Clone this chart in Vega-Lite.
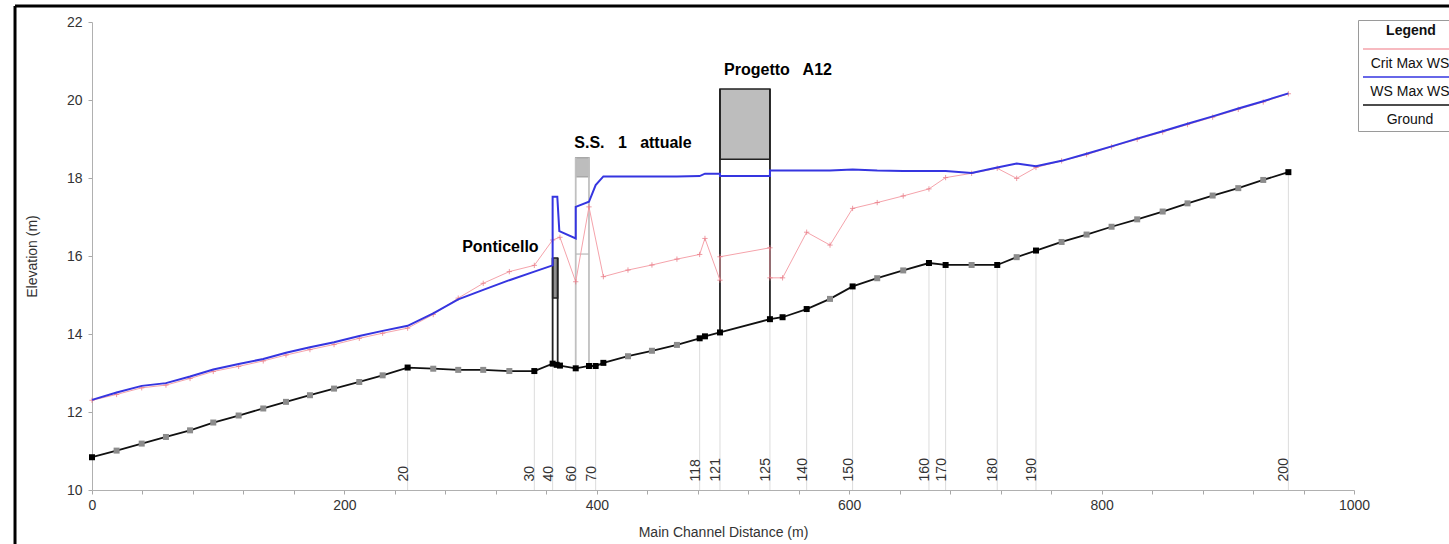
{
  "$schema": "https://vega.github.io/schema/vega-lite/v6.json",
  "width": 1262,
  "height": 468,
  "autosize": {"type": "none"},
  "padding": {"left": 92, "top": 22, "right": 95, "bottom": 54},
  "background": "white",
  "config": {
    "view": {"stroke": null},
    "font": "Liberation Sans",
    "axis": {"grid": false, "domainColor": "#b0b0b0", "tickColor": "#a8a8a8", "tickSize": 4, "labelPadding": 4, "labelColor": "#333", "labelFontSize": 14, "titleColor": "#333", "titleFontSize": 14, "titleFontWeight": "normal", "labelFont": "Liberation Sans", "titleFont": "Liberation Sans", "labelOverlap": false, "labelFlush": false}
  },
  "datasets": {
    "profile": [
      {"series": "Ground", "i": 1, "d": 0, "z": 10.84, "b": 1},
      {"series": "Ground", "i": 2, "d": 19.5, "z": 11.01, "b": 0},
      {"series": "Ground", "i": 3, "d": 39.4, "z": 11.19, "b": 0},
      {"series": "Ground", "i": 4, "d": 58.6, "z": 11.36, "b": 0},
      {"series": "Ground", "i": 5, "d": 77.7, "z": 11.53, "b": 0},
      {"series": "Ground", "i": 6, "d": 96.1, "z": 11.73, "b": 0},
      {"series": "Ground", "i": 7, "d": 116.2, "z": 11.91, "b": 0},
      {"series": "Ground", "i": 8, "d": 135.7, "z": 12.09, "b": 0},
      {"series": "Ground", "i": 9, "d": 153.7, "z": 12.26, "b": 0},
      {"series": "Ground", "i": 10, "d": 172.7, "z": 12.43, "b": 0},
      {"series": "Ground", "i": 11, "d": 191.8, "z": 12.60, "b": 0},
      {"series": "Ground", "i": 12, "d": 211.8, "z": 12.77, "b": 0},
      {"series": "Ground", "i": 13, "d": 230.3, "z": 12.94, "b": 0},
      {"series": "Ground", "i": 14, "d": 250.1, "z": 13.14, "b": 1},
      {"series": "Ground", "i": 15, "d": 270.4, "z": 13.11, "b": 0},
      {"series": "Ground", "i": 16, "d": 290.2, "z": 13.08, "b": 0},
      {"series": "Ground", "i": 17, "d": 310.0, "z": 13.08, "b": 0},
      {"series": "Ground", "i": 18, "d": 330.7, "z": 13.05, "b": 0},
      {"series": "Ground", "i": 19, "d": 350.5, "z": 13.05, "b": 1},
      {"series": "Ground", "i": 20, "d": 365.0, "z": 13.24, "b": 1},
      {"series": "Ground", "i": 21, "d": 368.2, "z": 13.21, "b": 1},
      {"series": "Ground", "i": 22, "d": 370.8, "z": 13.19, "b": 1},
      {"series": "Ground", "i": 23, "d": 383.3, "z": 13.12, "b": 1},
      {"series": "Ground", "i": 24, "d": 393.8, "z": 13.18, "b": 1},
      {"series": "Ground", "i": 25, "d": 399.1, "z": 13.18, "b": 1},
      {"series": "Ground", "i": 26, "d": 405.2, "z": 13.26, "b": 1},
      {"series": "Ground", "i": 27, "d": 424.7, "z": 13.43, "b": 0},
      {"series": "Ground", "i": 28, "d": 443.7, "z": 13.57, "b": 0},
      {"series": "Ground", "i": 29, "d": 463.5, "z": 13.72, "b": 0},
      {"series": "Ground", "i": 30, "d": 481.5, "z": 13.89, "b": 1},
      {"series": "Ground", "i": 31, "d": 485.7, "z": 13.94, "b": 1},
      {"series": "Ground", "i": 32, "d": 497.6, "z": 14.04, "b": 1},
      {"series": "Ground", "i": 33, "d": 537.2, "z": 14.38, "b": 1},
      {"series": "Ground", "i": 34, "d": 547.2, "z": 14.43, "b": 1},
      {"series": "Ground", "i": 35, "d": 566.3, "z": 14.64, "b": 1},
      {"series": "Ground", "i": 36, "d": 584.8, "z": 14.90, "b": 0},
      {"series": "Ground", "i": 37, "d": 602.7, "z": 15.22, "b": 1},
      {"series": "Ground", "i": 38, "d": 622.2, "z": 15.43, "b": 0},
      {"series": "Ground", "i": 39, "d": 642.8, "z": 15.63, "b": 0},
      {"series": "Ground", "i": 40, "d": 663.2, "z": 15.82, "b": 1},
      {"series": "Ground", "i": 41, "d": 676.4, "z": 15.77, "b": 1},
      {"series": "Ground", "i": 42, "d": 697.0, "z": 15.77, "b": 0},
      {"series": "Ground", "i": 43, "d": 717.3, "z": 15.77, "b": 1},
      {"series": "Ground", "i": 44, "d": 732.7, "z": 15.97, "b": 0},
      {"series": "Ground", "i": 45, "d": 748.0, "z": 16.14, "b": 1},
      {"series": "Ground", "i": 46, "d": 768.3, "z": 16.36, "b": 0},
      {"series": "Ground", "i": 47, "d": 788.1, "z": 16.55, "b": 0},
      {"series": "Ground", "i": 48, "d": 807.9, "z": 16.75, "b": 0},
      {"series": "Ground", "i": 49, "d": 828.2, "z": 16.94, "b": 0},
      {"series": "Ground", "i": 50, "d": 848.4, "z": 17.14, "b": 0},
      {"series": "Ground", "i": 51, "d": 868.1, "z": 17.35, "b": 0},
      {"series": "Ground", "i": 52, "d": 888.0, "z": 17.55, "b": 0},
      {"series": "Ground", "i": 53, "d": 908.3, "z": 17.74, "b": 0},
      {"series": "Ground", "i": 54, "d": 928.1, "z": 17.95, "b": 0},
      {"series": "Ground", "i": 55, "d": 948.0, "z": 18.15, "b": 1},

      {"series": "WS Max WS", "i": 1, "d": 0, "z": 12.31},
      {"series": "WS Max WS", "i": 2, "d": 19.5, "z": 12.50},
      {"series": "WS Max WS", "i": 3, "d": 39.4, "z": 12.67},
      {"series": "WS Max WS", "i": 4, "d": 58.6, "z": 12.74},
      {"series": "WS Max WS", "i": 5, "d": 77.7, "z": 12.91},
      {"series": "WS Max WS", "i": 6, "d": 96.1, "z": 13.09},
      {"series": "WS Max WS", "i": 7, "d": 116.2, "z": 13.23},
      {"series": "WS Max WS", "i": 8, "d": 135.7, "z": 13.36},
      {"series": "WS Max WS", "i": 9, "d": 153.7, "z": 13.52},
      {"series": "WS Max WS", "i": 10, "d": 172.7, "z": 13.66},
      {"series": "WS Max WS", "i": 11, "d": 191.8, "z": 13.79},
      {"series": "WS Max WS", "i": 12, "d": 211.8, "z": 13.95},
      {"series": "WS Max WS", "i": 13, "d": 230.3, "z": 14.08},
      {"series": "WS Max WS", "i": 14, "d": 250.1, "z": 14.21},
      {"series": "WS Max WS", "i": 15, "d": 270.4, "z": 14.53},
      {"series": "WS Max WS", "i": 16, "d": 290.2, "z": 14.89},
      {"series": "WS Max WS", "i": 17, "d": 310.0, "z": 15.13},
      {"series": "WS Max WS", "i": 18, "d": 330.7, "z": 15.38},
      {"series": "WS Max WS", "i": 19, "d": 350.5, "z": 15.60},
      {"series": "WS Max WS", "i": 20, "d": 365.0, "z": 15.76},
      {"series": "WS Max WS", "i": 21, "d": 365.0, "z": 17.52},
      {"series": "WS Max WS", "i": 22, "d": 368.7, "z": 17.52},
      {"series": "WS Max WS", "i": 23, "d": 370.3, "z": 16.64},
      {"series": "WS Max WS", "i": 24, "d": 383.3, "z": 16.45},
      {"series": "WS Max WS", "i": 25, "d": 383.3, "z": 17.26},
      {"series": "WS Max WS", "i": 26, "d": 393.8, "z": 17.39},
      {"series": "WS Max WS", "i": 27, "d": 399.1, "z": 17.82},
      {"series": "WS Max WS", "i": 28, "d": 405.2, "z": 18.04},
      {"series": "WS Max WS", "i": 29, "d": 424.7, "z": 18.04},
      {"series": "WS Max WS", "i": 30, "d": 443.7, "z": 18.04},
      {"series": "WS Max WS", "i": 31, "d": 463.5, "z": 18.04},
      {"series": "WS Max WS", "i": 32, "d": 481.5, "z": 18.05},
      {"series": "WS Max WS", "i": 33, "d": 485.7, "z": 18.11},
      {"series": "WS Max WS", "i": 34, "d": 497.6, "z": 18.11},
      {"series": "WS Max WS", "i": 35, "d": 497.6, "z": 18.05},
      {"series": "WS Max WS", "i": 36, "d": 537.2, "z": 18.05},
      {"series": "WS Max WS", "i": 37, "d": 537.2, "z": 18.19},
      {"series": "WS Max WS", "i": 38, "d": 547.2, "z": 18.19},
      {"series": "WS Max WS", "i": 39, "d": 566.3, "z": 18.19},
      {"series": "WS Max WS", "i": 40, "d": 584.8, "z": 18.19},
      {"series": "WS Max WS", "i": 41, "d": 602.7, "z": 18.22},
      {"series": "WS Max WS", "i": 42, "d": 622.2, "z": 18.19},
      {"series": "WS Max WS", "i": 43, "d": 642.8, "z": 18.18},
      {"series": "WS Max WS", "i": 44, "d": 663.2, "z": 18.18},
      {"series": "WS Max WS", "i": 45, "d": 676.4, "z": 18.18},
      {"series": "WS Max WS", "i": 46, "d": 697.0, "z": 18.13},
      {"series": "WS Max WS", "i": 47, "d": 717.3, "z": 18.27},
      {"series": "WS Max WS", "i": 48, "d": 732.7, "z": 18.37},
      {"series": "WS Max WS", "i": 49, "d": 748.0, "z": 18.30},
      {"series": "WS Max WS", "i": 50, "d": 768.3, "z": 18.44},
      {"series": "WS Max WS", "i": 51, "d": 788.1, "z": 18.62},
      {"series": "WS Max WS", "i": 52, "d": 807.9, "z": 18.81},
      {"series": "WS Max WS", "i": 53, "d": 828.2, "z": 19.01},
      {"series": "WS Max WS", "i": 54, "d": 848.4, "z": 19.20},
      {"series": "WS Max WS", "i": 55, "d": 868.1, "z": 19.39},
      {"series": "WS Max WS", "i": 56, "d": 888.0, "z": 19.58},
      {"series": "WS Max WS", "i": 57, "d": 908.3, "z": 19.78},
      {"series": "WS Max WS", "i": 58, "d": 928.1, "z": 19.97},
      {"series": "WS Max WS", "i": 59, "d": 948.0, "z": 20.17},

      {"series": "Crit Max WS", "i": 1, "d": 0, "z": 12.30},
      {"series": "Crit Max WS", "i": 2, "d": 19.5, "z": 12.45},
      {"series": "Crit Max WS", "i": 3, "d": 39.4, "z": 12.62},
      {"series": "Crit Max WS", "i": 4, "d": 58.6, "z": 12.69},
      {"series": "Crit Max WS", "i": 5, "d": 77.7, "z": 12.86},
      {"series": "Crit Max WS", "i": 6, "d": 96.1, "z": 13.04},
      {"series": "Crit Max WS", "i": 7, "d": 116.2, "z": 13.17},
      {"series": "Crit Max WS", "i": 8, "d": 135.7, "z": 13.31},
      {"series": "Crit Max WS", "i": 9, "d": 153.7, "z": 13.46},
      {"series": "Crit Max WS", "i": 10, "d": 172.7, "z": 13.60},
      {"series": "Crit Max WS", "i": 11, "d": 191.8, "z": 13.73},
      {"series": "Crit Max WS", "i": 12, "d": 211.8, "z": 13.89},
      {"series": "Crit Max WS", "i": 13, "d": 230.3, "z": 14.02},
      {"series": "Crit Max WS", "i": 14, "d": 250.1, "z": 14.15},
      {"series": "Crit Max WS", "i": 15, "d": 270.4, "z": 14.50},
      {"series": "Crit Max WS", "i": 16, "d": 290.2, "z": 14.92},
      {"series": "Crit Max WS", "i": 17, "d": 310.0, "z": 15.30},
      {"series": "Crit Max WS", "i": 18, "d": 330.7, "z": 15.60},
      {"series": "Crit Max WS", "i": 19, "d": 350.5, "z": 15.76},
      {"series": "Crit Max WS", "i": 20, "d": 365.0, "z": 16.41},
      {"series": "Crit Max WS", "i": 21, "d": 370.8, "z": 16.48},
      {"series": "Crit Max WS", "i": 22, "d": 383.3, "z": 15.34},
      {"series": "Crit Max WS", "i": 23, "d": 393.8, "z": 17.26},
      {"series": "Crit Max WS", "i": 24, "d": 405.2, "z": 15.47},
      {"series": "Crit Max WS", "i": 25, "d": 424.7, "z": 15.64},
      {"series": "Crit Max WS", "i": 26, "d": 443.7, "z": 15.77},
      {"series": "Crit Max WS", "i": 27, "d": 463.5, "z": 15.92},
      {"series": "Crit Max WS", "i": 28, "d": 481.5, "z": 16.04},
      {"series": "Crit Max WS", "i": 29, "d": 485.7, "z": 16.45},
      {"series": "Crit Max WS", "i": 30, "d": 497.6, "z": 15.38},
      {"series": "Crit Max WS", "i": 31, "d": 497.6, "z": 15.98},
      {"series": "Crit Max WS", "i": 32, "d": 537.2, "z": 16.21},
      {"series": "Crit Max WS", "i": 33, "d": 537.2, "z": 15.44},
      {"series": "Crit Max WS", "i": 34, "d": 547.2, "z": 15.44},
      {"series": "Crit Max WS", "i": 35, "d": 566.3, "z": 16.61},
      {"series": "Crit Max WS", "i": 36, "d": 584.8, "z": 16.28},
      {"series": "Crit Max WS", "i": 37, "d": 602.7, "z": 17.22},
      {"series": "Crit Max WS", "i": 38, "d": 622.2, "z": 17.37},
      {"series": "Crit Max WS", "i": 39, "d": 642.8, "z": 17.54},
      {"series": "Crit Max WS", "i": 40, "d": 663.2, "z": 17.72},
      {"series": "Crit Max WS", "i": 41, "d": 676.4, "z": 18.01},
      {"series": "Crit Max WS", "i": 42, "d": 697.0, "z": 18.12},
      {"series": "Crit Max WS", "i": 43, "d": 717.3, "z": 18.25},
      {"series": "Crit Max WS", "i": 44, "d": 732.7, "z": 17.99},
      {"series": "Crit Max WS", "i": 45, "d": 748.0, "z": 18.27},
      {"series": "Crit Max WS", "i": 46, "d": 768.3, "z": 18.44},
      {"series": "Crit Max WS", "i": 47, "d": 788.1, "z": 18.60},
      {"series": "Crit Max WS", "i": 48, "d": 807.9, "z": 18.80},
      {"series": "Crit Max WS", "i": 49, "d": 828.2, "z": 18.99},
      {"series": "Crit Max WS", "i": 50, "d": 848.4, "z": 19.18},
      {"series": "Crit Max WS", "i": 51, "d": 868.1, "z": 19.37},
      {"series": "Crit Max WS", "i": 52, "d": 888.0, "z": 19.56},
      {"series": "Crit Max WS", "i": 53, "d": 908.3, "z": 19.76},
      {"series": "Crit Max WS", "i": 54, "d": 928.1, "z": 19.95},
      {"series": "Crit Max WS", "i": 55, "d": 948.0, "z": 20.16}
    ],
    "stations": [
      {"s": "20", "d": 250.1, "z": 13.14},
      {"s": "30", "d": 350.5, "z": 13.05},
      {"s": "40", "d": 365.0, "z": 13.24},
      {"s": "60", "d": 383.3, "z": 13.12},
      {"s": "70", "d": 399.1, "z": 13.18},
      {"s": "118", "d": 481.5, "z": 13.89},
      {"s": "121", "d": 497.6, "z": 14.04},
      {"s": "125", "d": 537.2, "z": 14.38},
      {"s": "140", "d": 566.3, "z": 14.64},
      {"s": "150", "d": 602.7, "z": 15.22},
      {"s": "160", "d": 663.2, "z": 15.82},
      {"s": "170", "d": 676.4, "z": 15.77},
      {"s": "180", "d": 717.3, "z": 15.77},
      {"s": "190", "d": 748.0, "z": 16.14},
      {"s": "200", "d": 948.0, "z": 18.15}
    ],
    "decks": [
      {"bridge": "Ponticello", "d": 365.0, "d2": 369.0, "z": 14.92, "z2": 15.95},
      {"bridge": "S.S. 1", "d": 383.3, "d2": 393.8, "z": 18.03, "z2": 18.52},
      {"bridge": "A12", "d": 497.6, "d2": 537.2, "z": 18.48, "z2": 20.28}
    ],
    "walls": [
      {"bridge": "Ponticello", "d": 365.0, "z": 13.24, "z2": 15.95},
      {"bridge": "Ponticello", "d": 369.0, "z": 13.2, "z2": 15.95},
      {"bridge": "S.S. 1", "d": 383.3, "z": 13.12, "z2": 18.52},
      {"bridge": "S.S. 1", "d": 393.8, "z": 13.18, "z2": 18.52},
      {"bridge": "A12", "d": 497.6, "z": 14.04, "z2": 20.28},
      {"bridge": "A12", "d": 537.2, "z": 14.38, "z2": 20.28}
    ],
    "chords": [
      {"bridge": "S.S. 1", "d": 383.3, "d2": 393.8, "z": 16.05}
    ],
    "notes": [
      {"text": "Ponticello", "d": 323.6, "z": 16.24},
      {"text": "S.S.\u00a0\u00a0 1\u00a0\u00a0 attuale", "d": 428.7, "z": 18.90},
      {"text": "Progetto\u00a0\u00a0 A12", "d": 543.6, "z": 20.77}
    ],
    "frame": [
      {"d": -61, "d2": -61, "z": 8, "z2": 22.41},
      {"d": -61, "d2": 1100, "z": 22.41, "z2": 22.41}
    ]
  },
  "encoding": {
    "x": {
      "field": "d", "type": "quantitative",
      "scale": {"domain": [0, 1000], "nice": false, "zero": false},
      "axis": {
        "title": "Main Channel Distance (m)",
        "values": [0, 40, 80, 120, 160, 200, 240, 280, 320, 360, 400, 440, 480, 520, 560, 600, 640, 680, 720, 760, 800, 840, 880, 920, 960, 1000],
        "format": "d",
        "labelExpr": "datum.value % 200 === 0 ? datum.label : ''",
        "labelOverlap": false, "labelFlush": false,
        "labelPadding": 4,
        "titleY": 42, "titleBaseline": "middle"
      }
    },
    "y": {
      "field": "z", "type": "quantitative",
      "scale": {"domain": [10, 22], "nice": false, "zero": false},
      "axis": {
        "title": "Elevation (m)",
        "values": [10, 12, 14, 16, 18, 20, 22],
        "format": "d",
        "labelOverlap": false, "labelFlush": false, "labelBound": false,
        "labelPadding": 6,
        "titleX": -60, "titleBaseline": "middle"
      }
    }
  },
  "layer": [
    {
      "data": {"name": "stations"},
      "mark": {"type": "rule", "color": "#dcdcdc", "strokeWidth": 1},
      "encoding": {"y2": {"datum": 10}}
    },
    {
      "data": {"name": "decks"},
      "mark": {"type": "rect", "strokeWidth": 1.5},
      "encoding": {
        "x2": {"field": "d2"},
        "y2": {"field": "z2"},
        "fill": {"condition": {"test": "datum.bridge === 'Ponticello'", "value": "#8f8f8f"}, "value": "#bdbdbd"},
        "stroke": {"condition": {"test": "datum.bridge === 'S.S. 1'", "value": "#a8a8a8"}, "value": "#222222"}
      }
    },
    {
      "data": {"name": "walls"},
      "mark": {"type": "rule", "strokeWidth": 1.8},
      "encoding": {
        "y2": {"field": "z2"},
        "color": {"condition": {"test": "datum.bridge === 'S.S. 1'", "value": "#c0c0c0"}, "value": "#222222"}
      }
    },
    {
      "data": {"name": "chords"},
      "mark": {"type": "rule", "strokeWidth": 1.2, "color": "#b8b8b8"},
      "encoding": {"x2": {"field": "d2"}}
    },
    {
      "data": {"name": "profile"},
      "transform": [{"filter": "datum.series === 'Crit Max WS'"}],
      "mark": {"type": "line", "strokeWidth": 1},
      "encoding": {
        "order": {"field": "i", "type": "quantitative"},
        "color": {
          "field": "series", "type": "nominal",
          "scale": {"domain": ["Crit Max WS", "WS Max WS", "Ground"], "range": ["#f5a3ab", "#3535e0", "#111111"]},
          "legend": {
            "title": "Legend", "orient": "none", "legendX": 1266, "legendY": -2,
            "symbolType": "M-1,-2.5H14.67", "symbolSize": 144, "symbolStrokeWidth": 1.5,
            "labelAlign": "center", "labelBaseline": "middle", "labelOffset": 34,
            "labelFontSize": 14, "labelColor": "#111", "labelFont": "Liberation Sans",
            "titleFontSize": 14, "titleFontWeight": "bold", "titleColor": "#111", "titleFont": "Liberation Sans",
            "titleAnchor": "middle", "titlePadding": 19,
            "strokeColor": "#9a9a9a", "fillColor": "white", "padding": 4, "rowPadding": 3
          }
        }
      }
    },
    {
      "data": {"name": "profile"},
      "transform": [{"filter": "datum.series === 'Crit Max WS'"}],
      "mark": {"type": "point", "shape": "M-1,0H1M0,-1V1", "size": 28, "filled": false, "stroke": "#e8737f", "strokeWidth": 1}
    },
    {
      "data": {"name": "profile"},
      "transform": [{"filter": "datum.series === 'WS Max WS'"}],
      "mark": {"type": "line", "strokeWidth": 2},
      "encoding": {
        "order": {"field": "i", "type": "quantitative"},
        "color": {"field": "series", "type": "nominal"}
      }
    },
    {
      "data": {"name": "profile"},
      "transform": [{"filter": "datum.series === 'Ground'"}],
      "mark": {"type": "line", "strokeWidth": 1.8},
      "encoding": {
        "order": {"field": "i", "type": "quantitative"},
        "color": {"field": "series", "type": "nominal"}
      }
    },
    {
      "data": {"name": "profile"},
      "transform": [{"filter": "datum.series === 'Ground'"}],
      "mark": {"type": "point", "shape": "square", "size": 36, "filled": true, "opacity": 1},
      "encoding": {
        "color": {"condition": {"test": "datum.b === 1", "value": "#000000"}, "value": "#8c8c8c"}
      }
    },
    {
      "data": {"name": "stations"},
      "mark": {"type": "text", "angle": 270, "align": "left", "baseline": "alphabetic", "fontSize": 14, "color": "#333", "font": "Liberation Sans"},
      "encoding": {
        "y": {
          "datum": 10.22, "type": "quantitative",
          "axis": {
            "title": "Elevation (m)",
            "values": [10, 12, 14, 16, 18, 20, 22],
            "format": "d",
            "labelOverlap": false, "labelFlush": false, "labelBound": false,
            "labelPadding": 6,
            "titleX": -60, "titleBaseline": "middle"
          }
        },
        "text": {"field": "s"}
      }
    },
    {
      "data": {"name": "notes"},
      "mark": {"type": "text", "align": "center", "baseline": "middle", "fontSize": 16, "fontWeight": "bold", "color": "#000", "font": "Liberation Sans"},
      "encoding": {"text": {"field": "text"}}
    },
    {
      "data": {"name": "frame"},
      "mark": {"type": "rule", "clip": false, "color": "#000", "strokeWidth": 3},
      "encoding": {
        "x2": {"field": "d2"},
        "y2": {"field": "z2"}
      }
    }
  ]
}
